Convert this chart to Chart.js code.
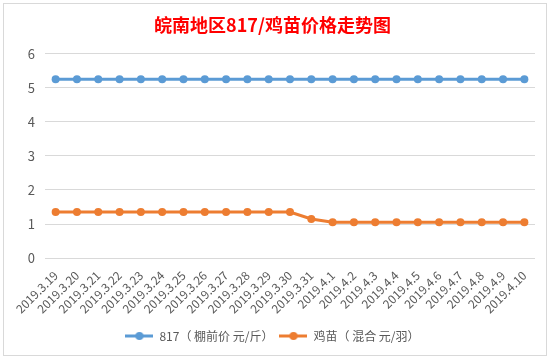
<!DOCTYPE html>
<html>
<head>
<meta charset="utf-8">
<script src="https://cdn.jsdelivr.net/npm/chart.js@4.4.0/dist/chart.umd.min.js"></script>
<style>
  html, body { margin: 0; padding: 0; background: #fff; }
  #wrap { width: 551px; height: 359px; position: relative; }
</style>
</head>
<body>
<div id="wrap"><canvas id="priceChart" width="551" height="359"></canvas></div>
<script>
// 日期（横轴）
const fechas = ['2019.3.19','2019.3.20','2019.3.21','2019.3.22','2019.3.23','2019.3.24','2019.3.25',
  '2019.3.26','2019.3.27','2019.3.28','2019.3.29','2019.3.30','2019.3.31','2019.4.1','2019.4.2',
  '2019.4.3','2019.4.4','2019.4.5','2019.4.6','2019.4.7','2019.4.8','2019.4.9','2019.4.10'];

// 817 棚前价 元/斤
const precio817 = [5.25,5.25,5.25,5.25,5.25,5.25,5.25,5.25,5.25,5.25,5.25,5.25,5.25,
  5.25,5.25,5.25,5.25,5.25,5.25,5.25,5.25,5.25,5.25];

// 鸡苗 混合 元/羽
const precioPollito = [1.35,1.35,1.35,1.35,1.35,1.35,1.35,1.35,1.35,1.35,1.35,1.35,1.15,
  1.05,1.05,1.05,1.05,1.05,1.05,1.05,1.05,1.05,1.05];

const yTicks = [0, 1, 2, 3, 4, 5, 6];

const azul = '#5B9BD5';
const naranja = '#ED7D31';
const fuente = '"Microsoft YaHei", "Noto Sans CJK SC", sans-serif';

// icono de leyenda: linea con punto
function iconoLeyenda(color) {
  const c = document.createElement('canvas');
  c.width = 28; c.height = 10;
  const g = c.getContext('2d');
  g.strokeStyle = color;
  g.lineWidth = 3;
  g.beginPath(); g.moveTo(0, 5); g.lineTo(28, 5); g.stroke();
  g.fillStyle = color;
  g.beginPath(); g.arc(14, 5, 4, 0, Math.PI * 2); g.fill();
  return c;
}

// marco del grafico
const marco = {
  id: 'marco',
  beforeDraw(chart) {
    const ctx = chart.ctx;
    ctx.save();
    ctx.fillStyle = '#fff';
    ctx.fillRect(0, 0, chart.width, chart.height);
    ctx.strokeStyle = '#d9d9d9';
    ctx.lineWidth = 1;
    ctx.strokeRect(3.5, 3.5, 543, 352);
    ctx.restore();
  }
};

new Chart(document.getElementById('priceChart'), {
  type: 'line',
  data: {
    labels: fechas,
    datasets: [{
      label: '817（ 棚前价 元/斤）',
      data: precio817,
      borderColor: azul,
      backgroundColor: azul,
      borderWidth: 3,
      pointRadius: 4,
      pointBackgroundColor: azul,
      pointBorderWidth: 0,
      tension: 0
    }, {
      label: '鸡苗（ 混合 元/羽）',
      data: precioPollito,
      borderColor: naranja,
      backgroundColor: naranja,
      borderWidth: 3,
      pointRadius: 4,
      pointBackgroundColor: naranja,
      pointBorderWidth: 0,
      tension: 0
    }]
  },
  options: {
    responsive: false,
    animation: false,
    layout: { padding: { left: 10, right: 16, top: 0, bottom: 7 } },
    scales: {
      x: {
        offset: true,
        grid: { display: false },
        border: { display: false },
        afterFit: (scale) => { scale.height += 6; },
        ticks: {
          color: '#595959',
          font: { family: fuente, size: 12 },
          minRotation: 45,
          maxRotation: 45,
          autoSkip: false,
          padding: 2
        }
      },
      y: {
        min: 0,
        max: 6,
        afterFit: (scale) => { scale.width = 35; },
        afterBuildTicks: (scale) => { scale.ticks = yTicks.map(v => ({ value: v })); },
        grid: { color: '#d9d9d9', drawTicks: false },
        border: { display: false },
        ticks: {
          color: '#595959',
          font: { family: fuente, size: 13 },
          padding: 10
        }
      }
    },
    plugins: {
      title: {
        display: true,
        text: '皖南地区817/鸡苗价格走势图',
        color: '#ff0000',
        font: { family: fuente, size: 18, weight: 'bold' },
        padding: { top: 14, bottom: 18 }
      },
      legend: {
        position: 'bottom',
        labels: {
          color: '#595959',
          font: { family: fuente, size: 12 },
          usePointStyle: true,
          pointStyleWidth: 28,
          boxHeight: 10,
          padding: 6,
          generateLabels: (chart) => {
            const items = Chart.defaults.plugins.legend.labels.generateLabels(chart);
            items.forEach((it, i) => { it.pointStyle = iconoLeyenda(i === 0 ? azul : naranja); });
            return items;
          }
        }
      },
      tooltip: { enabled: false }
    }
  },
  plugins: [marco]
});
</script>
</body>
</html>
